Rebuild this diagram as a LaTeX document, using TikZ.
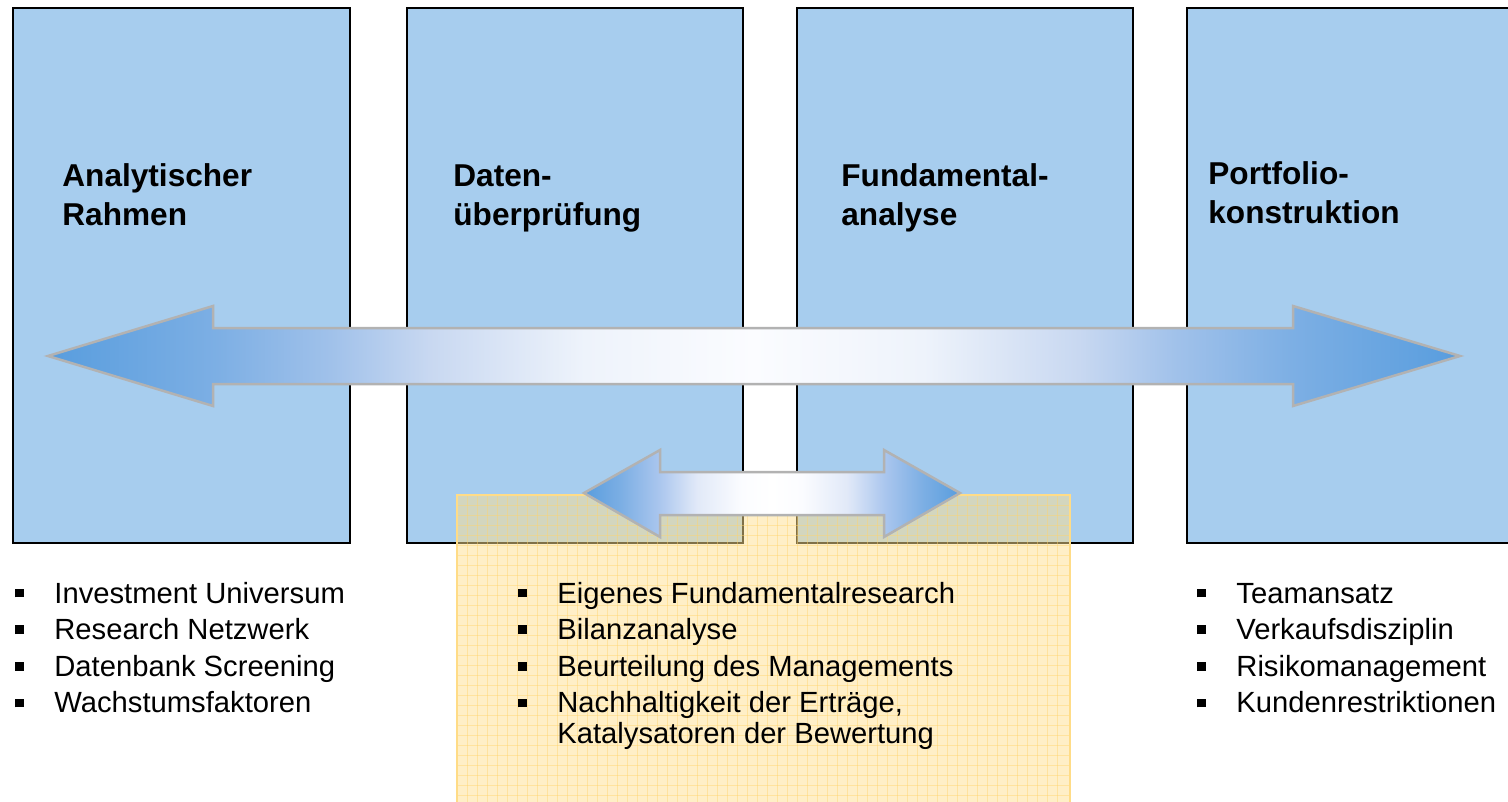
\documentclass[tikz,border=0pt]{standalone}
\usepackage{fontspec}
\setmainfont{Liberation Sans}
\definecolor{boxblue}{RGB}{167,205,238}
\definecolor{arrowgray}{RGB}{178,178,178}
\definecolor{ylfill}{RGB}{255,224,143}
\definecolor{ylgrid}{RGB}{255,212,110}
\definecolor{ylborder}{RGB}{255,220,135}
\definecolor{tipblue}{RGB}{88,157,222}
\definecolor{sa}{RGB}{125,175,228}
\definecolor{sb}{RGB}{160,193,234}
\definecolor{sc}{RGB}{200,216,241}
\definecolor{sd}{RGB}{238,243,251}
\definecolor{se}{RGB}{251,252,255}
\definecolor{tb}{RGB}{170,198,238}
\definecolor{tc}{RGB}{225,233,248}
\pgfdeclarehorizontalshading{bigshade}{100bp}{color(0bp)=(tipblue); color(25bp)=(tipblue); color(31bp)=(sa); color(35bp)=(sb); color(38.5bp)=(sc); color(44bp)=(sd); color(50bp)=(se); color(56bp)=(sd); color(61.5bp)=(sc); color(65bp)=(sb); color(69bp)=(sa); color(75bp)=(tipblue); color(100bp)=(tipblue)}
\pgfdeclarehorizontalshading{smallshade}{100bp}{color(0bp)=(tipblue); color(25bp)=(tipblue); color(30bp)=(sa); color(35bp)=(tb); color(40bp)=(tc); color(46bp)=(se); color(50bp)=(white); color(54bp)=(se); color(60bp)=(tc); color(65bp)=(tb); color(70bp)=(sa); color(75bp)=(tipblue); color(100bp)=(tipblue)}
\newcommand{\bul}{\rule[2.8pt]{4.3pt}{4.3pt}}
\tikzset{
  stagebox/.style={fill=boxblue, draw=black, line width=1.1pt},
  hdr/.style={anchor=base west, inner sep=0pt, font=\fontsize{15.8}{19.5}\selectfont\bfseries},
  lst/.style={anchor=base west, inner sep=0pt, font=\fontsize{14.6}{15}\selectfont},
  arr/.style={draw=arrowgray, line width=1.25pt, line join=miter},
}
\begin{document}
\begin{tikzpicture}[x=0.5pt, y=-0.5pt]
\useasboundingbox (0,0) rectangle (1508,802);
% stage boxes
\draw[stagebox] (13,8) rectangle (350,543);
\draw[stagebox] (407,8) rectangle (743,543);
\draw[stagebox] (797,8) rectangle (1133,543);
\draw[stagebox] (1187,8) rectangle (1530,543);
% headers
\node[hdr] (h1) at (62,187) {\parbox[t]{150pt}{\raggedright Analytischer\\Rahmen}};
\node[hdr] (h2) at (453,187) {\parbox[t]{150pt}{\raggedright Daten-\\überprüfung}};
\node[hdr] (h3) at (841,187) {\parbox[t]{150pt}{\raggedright Fundamental-\\analyse}};
\node[hdr] (h4) at (1208,185) {\parbox[t]{150pt}{\raggedright Portfolio-\\konstruktion}};
% big double arrow
\shade[shading=bigshade] (48,356) -- (213,306) -- (213,328) -- (1293,328) -- (1293,306) -- (1460,356) -- (1293,406) -- (1293,384) -- (213,384) -- (213,406) -- cycle;
\draw[arr] (48,356) -- (213,306) -- (213,328) -- (1293,328) -- (1293,306) -- (1460,356) -- (1293,406) -- (1293,384) -- (213,384) -- (213,406) -- cycle;
% yellow translucent panel with grid
\fill[ylfill, fill opacity=0.5] (457,495) rectangle (1070,810);
\begin{scope}
\clip (457,495) rectangle (1070,810);
\foreach \gx in {467,477,...,1065} {\draw[ylgrid, opacity=0.45, line width=0.5pt] (\gx,495) -- (\gx,810);}
\foreach \gy in {505,515,...,805} {\draw[ylgrid, opacity=0.45, line width=0.5pt] (457,\gy) -- (1070,\gy);}
\end{scope}
\draw[ylborder, line width=1.4pt] (457,810) -- (457,495) -- (1070,495) -- (1070,810);
% small double arrow
\shade[shading=smallshade] (584,493) -- (660,450) -- (660,472) -- (884,472) -- (884,450) -- (960,493) -- (884,537) -- (884,515) -- (660,515) -- (660,537) -- cycle;
\draw[arr] (584,493) -- (660,450) -- (660,472) -- (884,472) -- (884,450) -- (960,493) -- (884,537) -- (884,515) -- (660,515) -- (660,537) -- cycle;
% bullet lists
\node[lst] (l1) at (15,603) {\begin{tabular}[t]{@{}p{19.5pt}@{}l@{}}
\bul & Investment Universum\\[3.25pt]
\bul & Research Netzwerk\\[3.25pt]
\bul & Datenbank Screening\\[3.25pt]
\bul & Wachstumsfaktoren
\end{tabular}};
\node[lst] (l2) at (518,603) {\begin{tabular}[t]{@{}p{19.5pt}@{}l@{}}
\bul & Eigenes Fundamentalresearch\\[3.25pt]
\bul & Bilanzanalyse\\[3.25pt]
\bul & Beurteilung des Managements\\[3.25pt]
\bul & Nachhaltigkeit der Erträge,\\
 & Katalysatoren der Bewertung
\end{tabular}};
\node[lst] (l3) at (1197,603) {\begin{tabular}[t]{@{}p{19.5pt}@{}l@{}}
\bul & Teamansatz\\[3.25pt]
\bul & Verkaufsdisziplin\\[3.25pt]
\bul & Risikomanagement\\[3.25pt]
\bul & Kundenrestriktionen
\end{tabular}};
\end{tikzpicture}
\end{document}
